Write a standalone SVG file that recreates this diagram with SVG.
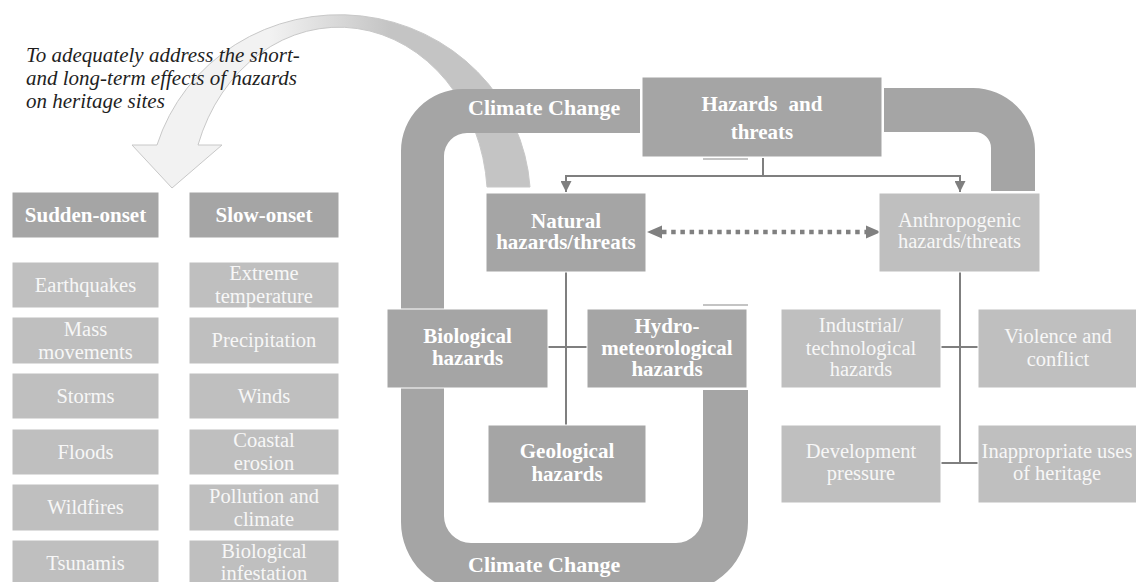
<svg xmlns="http://www.w3.org/2000/svg" width="1136" height="582" viewBox="0 0 1136 582">
<defs>
<style>
text{font-family:'Liberation Serif','Tinos','DejaVu Serif',serif}
.dk{fill:#a5a5a5;stroke:#ffffff;stroke-width:1}
.lt{fill:#bfbfbf;stroke:#ffffff;stroke-width:1}
.band{fill:#a5a5a5}
.tb{font-weight:bold;font-size:21px;fill:#ffffff;text-anchor:middle}
.tr{font-size:20.5px;fill:#f7f7f7;text-anchor:middle}
.cc{font-weight:bold;font-size:22px;fill:#ffffff}
.ln{stroke:#7f7f7f;stroke-width:2;fill:none}
.ghost{stroke:#c4c4c4;stroke-width:2}
</style>
<linearGradient id="rib" gradientUnits="userSpaceOnUse" x1="270" y1="0" x2="390" y2="0">
<stop offset="0" stop-color="#f2f2f2"/>
<stop offset="1" stop-color="#c4c4c4"/>
</linearGradient>
<marker id="ah" viewBox="0 0 10 10" refX="10" refY="5" markerWidth="11" markerHeight="11" markerUnits="userSpaceOnUse" orient="auto">
<path d="M0,0 L10,5 L0,10 Z" fill="#7f7f7f"/>
</marker>
</defs>

<g id="curved-arrow">
<path d="M 530,187 A 191 185 0 0 0 157,145 L 132,145 L 172,188 L 222,145 L 198,145 A 148.6 173 0 0 1 487,187 Z" fill="url(#rib)" stroke="#c8c8c8" stroke-width="1"/>
</g>

<g id="caption">
<text font-style="italic" font-size="21" fill="#1f1f1f">
<tspan x="26" y="62">To adequately address the short-</tspan>
<tspan x="26" y="85">and long-term effects of hazards</tspan>
<tspan x="26" y="108">on heritage sites</tspan>
</text>
</g>

<g id="climate-band">
<path class="band" d="M 640,89 L 463,89 A 62 62 0 0 0 401,151 L 401,522 A 70 70 0 0 0 471,592 L 678,592 A 70 70 0 0 0 748,522 L 748,390 L 703,390 L 703,516 A 27 27 0 0 1 676,543 L 471,543 A 27 27 0 0 1 444,516 L 444,156 A 23 23 0 0 1 467,133 L 640,133 Z"/>
<path class="band" d="M 884,88 L 973,88 A 62 62 0 0 1 1035,150 L 1035,191 L 991,191 L 991,148 A 16 16 0 0 0 975,132 L 884,132 Z"/>
<text class="cc" x="468" y="115">Climate Change</text>
<text class="cc" x="468" y="572">Climate Change</text>
<line class="ghost" x1="703" y1="159" x2="748" y2="159"/>
<line class="ghost" x1="703" y1="305" x2="748" y2="305"/>
</g>

<g id="connectors">
<path class="ln" d="M 763,158 L 763,176"/>
<path class="ln" d="M 763,176 L 566,176 L 566,192" marker-end="url(#ah)"/>
<path class="ln" d="M 763,176 L 960,176 L 960,192" marker-end="url(#ah)"/>
<path class="ln" d="M 566,272 L 566,425"/>
<path class="ln" d="M 548,347 L 587,347"/>
<path class="ln" d="M 960,272 L 960,463"/>
<path class="ln" d="M 941,347 L 978,347"/>
<path class="ln" d="M 941,463 L 978,463"/>
<line x1="662" y1="232" x2="866" y2="232" stroke="#808080" stroke-width="4.5" stroke-dasharray="4.5 4.7"/>
<path d="M 647,232 L 662,225.5 L 662,238.5 Z" fill="#808080"/>
<path d="M 881,232 L 866,225.5 L 866,238.5 Z" fill="#808080"/>
</g>

<g id="hazards">
<rect class="dk" x="642" y="77" width="240" height="80"/>
<text class="tb" font-size="26" word-spacing="6"><tspan x="762" y="111">Hazards and</tspan><tspan x="762" y="139">threats</tspan></text>
</g>
<g id="natural">
<rect class="dk" x="486" y="193" width="160" height="79"/>
<text class="tb"><tspan x="566" y="228">Natural</tspan><tspan x="566" y="249">hazards/threats</tspan></text>
</g>
<g id="anthropogenic">
<rect class="lt" x="879" y="193" width="161" height="79"/>
<text class="tr"><tspan x="959.5" y="227">Anthropogenic</tspan><tspan x="959.5" y="248">hazards/threats</tspan></text>
</g>
<g id="biological">
<rect class="dk" x="387" y="309" width="161" height="79"/>
<text class="tb"><tspan x="467.5" y="343">Biological</tspan><tspan x="467.5" y="365">hazards</tspan></text>
</g>
<g id="hydro">
<rect class="dk" x="587" y="309" width="160" height="79"/>
<text class="tb"><tspan x="667" y="333">Hydro-</tspan><tspan x="667" y="355">meteorological</tspan><tspan x="667" y="376">hazards</tspan></text>
</g>
<g id="geological">
<rect class="dk" x="488" y="425" width="158" height="78"/>
<text class="tb"><tspan x="567" y="458">Geological</tspan><tspan x="567" y="481">hazards</tspan></text>
</g>
<g id="industrial">
<rect class="lt" x="781" y="309" width="160" height="79"/>
<text class="tr"><tspan x="861" y="332">Industrial/</tspan><tspan x="861" y="355">technological</tspan><tspan x="861" y="376">hazards</tspan></text>
</g>
<g id="violence">
<rect class="lt" x="978" y="309" width="160" height="79"/>
<text class="tr"><tspan x="1058" y="343">Violence and</tspan><tspan x="1058" y="366">conflict</tspan></text>
</g>
<g id="development">
<rect class="lt" x="781" y="425" width="160" height="78"/>
<text class="tr"><tspan x="861" y="458">Development</tspan><tspan x="861" y="480">pressure</tspan></text>
</g>
<g id="inappropriate">
<rect class="lt" x="978" y="425" width="160" height="78"/>
<text class="tr"><tspan x="1057" y="458">Inappropriate uses</tspan><tspan x="1057" y="480">of heritage</tspan></text>
</g>

<g id="sudden-onset">
<rect class="dk" x="12" y="192" width="147" height="46" stroke="none"/>
<text class="tb" font-size="20" x="85.5" y="222">Sudden-onset</text>
</g>
<g id="slow-onset">
<rect class="dk" x="189" y="192" width="150" height="46" stroke="none"/>
<text class="tb" font-size="20" x="264" y="222">Slow-onset</text>
</g>
<g id="earthquakes"><rect class="lt" x="12" y="262" width="147" height="46" stroke="none"/><text class="tr" x="85.5" y="292">Earthquakes</text></g>
<g id="mass"><rect class="lt" x="12" y="317" width="147" height="47" stroke="none"/><text class="tr"><tspan x="85.5" y="336">Mass</tspan><tspan x="85.5" y="359">movements</tspan></text></g>
<g id="storms"><rect class="lt" x="12" y="373" width="147" height="46" stroke="none"/><text class="tr" x="85.5" y="403">Storms</text></g>
<g id="floods"><rect class="lt" x="12" y="429" width="147" height="46" stroke="none"/><text class="tr" x="85.5" y="459">Floods</text></g>
<g id="wildfires"><rect class="lt" x="12" y="484" width="147" height="47" stroke="none"/><text class="tr" x="85.5" y="514">Wildfires</text></g>
<g id="tsunamis"><rect class="lt" x="12" y="540" width="147" height="46" stroke="none"/><text class="tr" x="85.5" y="570">Tsunamis</text></g>
<g id="extreme"><rect class="lt" x="189" y="262" width="150" height="46" stroke="none"/><text class="tr"><tspan x="264" y="280">Extreme</tspan><tspan x="264" y="303">temperature</tspan></text></g>
<g id="precipitation"><rect class="lt" x="189" y="317" width="150" height="47" stroke="none"/><text class="tr" x="264" y="347">Precipitation</text></g>
<g id="winds"><rect class="lt" x="189" y="373" width="150" height="46" stroke="none"/><text class="tr" x="264" y="403">Winds</text></g>
<g id="coastal"><rect class="lt" x="189" y="429" width="150" height="46" stroke="none"/><text class="tr"><tspan x="264" y="447">Coastal</tspan><tspan x="264" y="470">erosion</tspan></text></g>
<g id="pollution"><rect class="lt" x="189" y="484" width="150" height="47" stroke="none"/><text class="tr"><tspan x="264" y="503">Pollution and</tspan><tspan x="264" y="526">climate</tspan></text></g>
<g id="bio-infest"><rect class="lt" x="189" y="540" width="150" height="46" stroke="none"/><text class="tr"><tspan x="264" y="558">Biological</tspan><tspan x="264" y="580">infestation</tspan></text></g>
</svg>
